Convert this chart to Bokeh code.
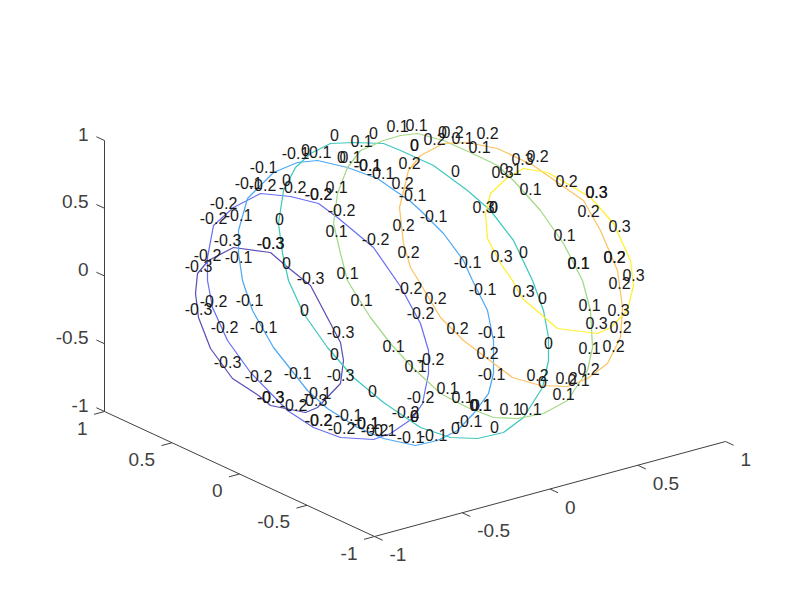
from bokeh.plotting import figure
from bokeh.models import ColumnDataSource
from bokeh.embed import file_html
from bokeh.resources import INLINE
from bokeh.core.properties import value

# Contour lines, in view coordinates (x, y)
levels = [-0.3, -0.2, -0.1, 0, 0.1, 0.2, 0.3]
level_colors = ["#5a50b8", "#6b6ff2", "#4fa9f5", "#3fc8bf", "#a2da86", "#fdc262", "#fff02e"]

line_m3 = [(270,252),(285,265),(310,285),(330,323),(340,342),(343,360),(340,383),(317,407),(305,412),(270,405),(258,395),(232,378),(210,348),(198,317),(195,293),(197,273),(208,260),(233,247),(270,252)]
line_m2 = [(260,193),(290,196),(318,203),(337,217),(373,247),(400,286),(420,323),(428,350),(428,373),(422,403),(412,418),(390,433),(373,439),(340,437),(313,427),(287,410),(250,372),(227,340),(212,307),(207,280),(207,257),(213,225),(233,207),(260,193)]
line_m1 = [(317,160),(347,167),(377,178),(410,201),(420,210),(443,233),(463,260),(472,280),(487,310),(493,340),(493,373),(488,393),(473,413),(457,430),(437,440),(415,445),(383,438),(357,427),(327,408),(307,390),(273,347),(252,310),(242,280),(238,253),(238,230),(247,198),(273,172),(297,162),(317,160)]
line_0 = [(353,142),(383,143),(400,150),(433,165),(467,190),(490,210),(513,240),(532,280),(543,310),(548,337),(548,360),(542,387),(523,417),(503,432),(477,438),(450,437),(420,427),(383,402),(353,377),(327,347),(303,313),(288,280),(282,253),(278,223),(283,190),(295,167),(310,153),(330,143),(353,142)]
line_p1 = [(417,133),(443,140),(470,152),(497,165),(513,180),(540,210),(563,243),(582,280),(590,310),(592,347),(587,370),(567,400),(543,413),(517,418),(493,417),(467,407),(440,393),(410,365),(390,343),(370,317),(353,290),(347,280),(340,253),(333,223),(337,193),(347,167),(360,150),(383,140),(400,135),(417,133)]
line_p2 = [(467,142),(497,148),(533,165),(557,182),(583,200),(600,230),(617,270),(622,307),(620,337),(607,363),(587,378),(567,386),(540,385),(512,377),(500,368),(463,340),(440,317),(418,280),(410,267),(403,243),(399,207),(408,170),(420,155),(443,143),(467,142)]
line_p3 = [(523,168),(547,172),(570,185),(590,197),(613,223),(630,260),(633,285),(627,310),(610,327),(597,333),(557,328),(522,298),(512,280),(500,263),(487,238),(485,213),(490,193),(507,177),(523,168)]

# Inline contour labels
labels_m3 = [(227,240),(270,243),(270,243),(198,266),(310,278),(198,309),(340,332),(227,362),(340,375),(270,397),(270,397),(313,400)]
labels_m2 = [(262,185),(292,187),(318,194),(318,194),(341,210),(223,203),(213,218),(375,239),(207,255),(408,288),(213,301),(224,327),(420,313),(430,359),(258,376),(420,397),(293,405),(405,412),(318,420),(318,420),(341,428),(374,430)]
labels_m1 = [(295,153),(317,152),(367,165),(367,165),(380,173),(263,167),(248,183),(238,215),(238,257),(412,195),(433,216),(467,262),(482,289),(249,300),(263,327),(491,332),(297,373),(491,374),(317,393),(348,415),(365,423),(365,423),(382,430),(468,421),(410,437),(433,435)]
labels_0 = [(334,135),(373,133),(305,150),(341,157),(414,145),(414,145),(442,132),(455,171),(286,180),(279,219),(286,263),(493,207),(493,207),(523,252),(542,298),(304,310),(548,343),(334,354),(542,382),(372,391),(414,416),(414,416),(475,405),(455,428),(494,427)]
labels_p1 = [(361,141),(397,126),(416,125),(350,157),(336,187),(336,231),(347,273),(462,138),(479,147),(510,169),(530,189),(564,235),(578,263),(578,263),(361,300),(589,305),(393,346),(589,348),(415,366),(578,380),(563,394),(447,388),(462,397),(480,405),(480,405),(510,409),(530,409)]
labels_p2 = [(409,163),(402,183),(403,225),(408,252),(434,139),(452,132),(487,133),(537,156),(566,181),(588,211),(614,257),(614,257),(619,283),(435,298),(457,328),(620,327),(613,346),(487,353),(588,369),(537,375),(566,378)]
labels_p3 = [(522,159),(502,172),(596,192),(596,192),(619,226),(483,207),(501,256),(633,275),(523,291),(618,310),(596,323)]

# Axis ticks
x_ticks = [-1, -0.5, 0, 0.5, 1]
y_ticks = [-1, -0.5, 0, 0.5, 1]
z_ticks = [-1, -0.5, 0, 0.5, 1]
tick_text = {-1: "-1", -0.5: "-0.5", 0: "0", 0.5: "0.5", 1: "1"}


def project(x, y, z):
    """Oblique projection of the unit box on to the view plane."""
    return (414.5 + 175.5 * x - 135 * y,
            290.5 - 47.5 * x - 62.5 * y - 135.5 * z)


p = figure(width=784, height=584, x_range=(0, 784), y_range=(584, 0),
           output_backend="svg", toolbar_location=None, min_border=0,
           outline_line_color=None)
p.xaxis.visible = False
p.yaxis.visible = False
p.grid.visible = False

# Box edges
AXIS = "#404040"
edges = [((-1, 1, -1), (-1, -1, -1)), ((-1, -1, -1), (1, -1, -1)), ((-1, 1, -1), (-1, 1, 1))]
for a, b in edges:
    pa, pb = project(*a), project(*b)
    p.line([pa[0], pb[0]], [pa[1], pb[1]], line_color=AXIS, line_width=1)

# Tick marks and tick labels
FONT = value("Liberation Sans")
def tick_label(px, py, txt, align):
    p.text([px], [py - 1.5], text=[txt], text_font=FONT, text_font_size="19px", text_color=AXIS,
           text_align=align, text_baseline="middle")

for t in x_ticks:
    a = project(t, -1, -1)
    b = project(t, -1.06, -1)
    p.line([a[0], b[0]], [a[1], b[1]], line_color=AXIS, line_width=1)
    tick_label(a[0] + 15, a[1] + 19.5, tick_text[t], "left")
for t in y_ticks:
    a = project(-1, t, -1)
    b = project(-1.06, t, -1)
    p.line([a[0], b[0]], [a[1], b[1]], line_color=AXIS, line_width=1)
    tick_label(a[0] - 17, a[1] + 18, tick_text[t], "right")
for t in z_ticks:
    a = project(-1, 1, t)
    b = project(-1, 1.06, t)
    p.line([a[0], b[0]], [a[1], b[1]], line_color=AXIS, line_width=1)
    tick_label(a[0] - 16, a[1] - 5, tick_text[t], "right")

# Contour lines
all_lines = [line_m3, line_m2, line_m1, line_0, line_p1, line_p2, line_p3]
for line, color in zip(all_lines, level_colors):
    p.line([q[0] for q in line], [q[1] for q in line], line_color=color, line_width=1.25)

# Contour labels
all_labels = [labels_m3, labels_m2, labels_m1, labels_0, labels_p1, labels_p2, labels_p3]
for lev, pts in zip(levels, all_labels):
    txt = "0" if lev == 0 else f"{lev:g}"
    src = ColumnDataSource(dict(x=[q[0] for q in pts], y=[q[1] - 1 for q in pts], t=[txt] * len(pts)))
    p.text("x", "y", text="t", source=src, text_font=FONT, text_font_size="16px",
           text_color="#1a1a1a", text_align="center", text_baseline="middle")

open("out.html", "w").write(file_html(p, INLINE))
